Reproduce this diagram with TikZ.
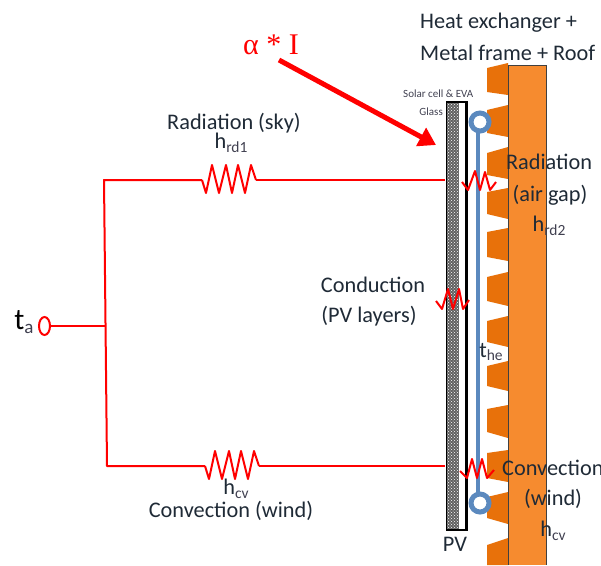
\documentclass[tikz,border=0pt]{standalone}
\usepackage{fontspec}
\setmainfont{Carlito}
\newfontfamily\serifalt{Liberation Serif}
\usetikzlibrary{patterns,arrows.meta,shapes.geometric}
\definecolor{finorange}{HTML}{E8710A}
\definecolor{roofgold}{HTML}{F68B2F}
\definecolor{tubeblue}{HTML}{5B89BE}
\definecolor{labelink}{HTML}{1F2A36}
\definecolor{smallink}{HTML}{404050}
\tikzset{
  lbl/.style={font=\fontsize{22.3}{25}\selectfont,text=labelink,inner sep=0pt},
  smalllbl/.style={text=smallink,inner sep=0pt,font=\fontsize{11}{13}\selectfont},
  wire/.style={draw=red,line width=2pt,line join=round},
  tube/.style={draw=tubeblue,line width=3.4pt},
  ring/.style={circle,draw=tubeblue,line width=5pt,fill=white,minimum size=18pt,inner sep=0pt}
}
\newcommand{\subs}[2]{#1\raisebox{-0.35ex}{\fontsize{15.5}{16}\selectfont\textcolor{smallink}{#2}}}
\begin{document}
\begin{tikzpicture}[x=1pt,y=-1pt]
\useasboundingbox (0,0) rectangle (601,565);
% roof and fins
\fill[finorange] (508,63) -- (487,68) -- (487,92) -- (508,95) -- cycle;
\fill[finorange] (508,105) -- (487,110) -- (487,133) -- (508,137) -- cycle;
\fill[finorange] (508,147) -- (487,153) -- (487,175) -- (508,179) -- cycle;
\fill[finorange] (508,188) -- (487,192) -- (487,214) -- (508,219) -- cycle;
\fill[finorange] (508,228) -- (487,232) -- (487,257) -- (508,261) -- cycle;
\fill[finorange] (508,272) -- (487,277) -- (487,301) -- (508,306) -- cycle;
\fill[finorange] (508,316) -- (487,321) -- (487,342) -- (508,347) -- cycle;
\fill[finorange] (508,361) -- (487,366) -- (487,386) -- (508,391) -- cycle;
\fill[finorange] (508,405) -- (487,409) -- (487,432) -- (508,438) -- cycle;
\fill[finorange] (508,450) -- (487,453) -- (487,478) -- (508,482) -- cycle;
\fill[finorange] (508,492) -- (487,497) -- (487,518) -- (508,524) -- cycle;
\fill[finorange] (508,538) -- (487,545) -- (487,565) -- (508,565) -- cycle;
\fill[roofgold] (508,65) rectangle (546,565);
\draw[black!75,line width=0.8pt] (508,565) -- (508,65) -- (546,65) -- (546,565);
% PV panel
\fill[black!62] (446.5,101) rectangle (459,531);
\fill[pattern=crosshatch dots,pattern color=white] (446.5,101) rectangle (459,531);
\draw[black,line width=1pt] (446.5,101) -- (446.5,531);
\draw[black,line width=2pt] (446.5,102) -- (467,102);
\draw[black,line width=2pt] (446.5,529.5) -- (467,529.5);
\draw[black,line width=3.2pt] (466.5,101) -- (466.5,531);
% tube
\node[ring] (ringtop) at (480,122) {};
\node[ring] (ringbot) at (480,503) {};
\draw[tube] (478,133) -- (478,492);
% circuit
\node[ellipse,draw=red,line width=2pt,minimum width=11pt,minimum height=18pt,inner sep=0pt] (ta) at (44.5,326) {};
\coordinate (junction) at (105,326);
\coordinate (topcorner) at (104,180);
\coordinate (botcorner) at (107,466);
\coordinate (topend) at (445,180);
\coordinate (botend) at (445,466);
\coordinate (r1a) at (202,180);
\coordinate (r1b) at (256,180);
\coordinate (r2a) at (205,466);
\coordinate (r2b) at (259,466);
\draw[wire] (ta) -- (junction);
\draw[wire] (r1a) -- (topcorner) -- (botcorner) -- (r2a);
\draw[wire] (r1b) -- (topend);
\draw[wire] (r2b) -- (botend);
\draw[wire] (r1a) -- (206,193) -- (212,165) -- (219,193) -- (226,165) -- (232,193) -- (238,165) -- (245,193) -- (251,165) -- (r1b);
\draw[wire] (r2a) -- (209,479) -- (215,451) -- (222,479) -- (229,451) -- (235,479) -- (241,451) -- (248,479) -- (254,451) -- (r2b);
% small resistors
\draw[wire] (462,182) -- (468,190) -- (475,171) -- (480,190) -- (485,172) -- (490,190) -- (496,182);
\draw[wire] (436,301) -- (442,309) -- (448,289) -- (453,309) -- (459,289) -- (463,309) -- (469,300);
\draw[wire] (460,471) -- (467,478) -- (472,459) -- (477,478) -- (482,459) -- (487,478) -- (494,470);
% incoming radiation arrow
\coordinate (sunfrom) at (279,60);
\coordinate (sunto) at (436,145);
\draw[red,line width=5pt,-{Triangle[length=17pt,width=20pt]}] (sunfrom) -- (sunto);
% labels
\node[text=red,font=\fontsize{30}{32}\selectfont\serifalt,inner sep=0pt] (alpha) at (271,45) {α * I};
\node[lbl,anchor=west] (hx1) at (420,23) {Heat exchanger +};
\node[lbl,anchor=west] (hx2) at (420,53) {Metal frame + Roof};
\node[smalllbl,anchor=west] (cell) at (403,94) {Solar cell \& EVA};
\node[smalllbl,anchor=east] (glass) at (443,112) {Glass};
\node[lbl] (radsky) at (234,123) {Radiation (sky)};
\node[lbl] (hrd1) at (231,143) {\subs{h}{rd1}};
\node[lbl] (cond1) at (373,285) {Conduction};
\node[lbl] (cond2) at (369,316) {(PV layers)};
\node[lbl] (rad1) at (549,162) {Radiation};
\node[lbl] (rad2) at (550,195) {(air gap)};
\node[lbl] (hrd2) at (549,226) {\subs{h}{rd2}};
\node[lbl,anchor=west] (conv1) at (502,468) {Convection};
\node[lbl] (conv2) at (553,499) {(wind)};
\node[lbl] (hcv2) at (553,531) {\subs{h}{cv}};
\node[lbl] (the) at (491,352) {\subs{t}{he}};
\node[lbl] (pv) at (455,544) {PV};
\node[lbl] (hcv1) at (236,489) {\subs{h}{cv}};
\node[lbl] (convw) at (231,511) {Convection (wind)};
\node[inner sep=0pt,font=\fontsize{30}{32}\selectfont,text=black] (talbl) at (24,322) {t\raisebox{-0.3ex}{\fontsize{19}{20}\selectfont\textcolor{smallink}{a}}};
\end{tikzpicture}
\end{document}
